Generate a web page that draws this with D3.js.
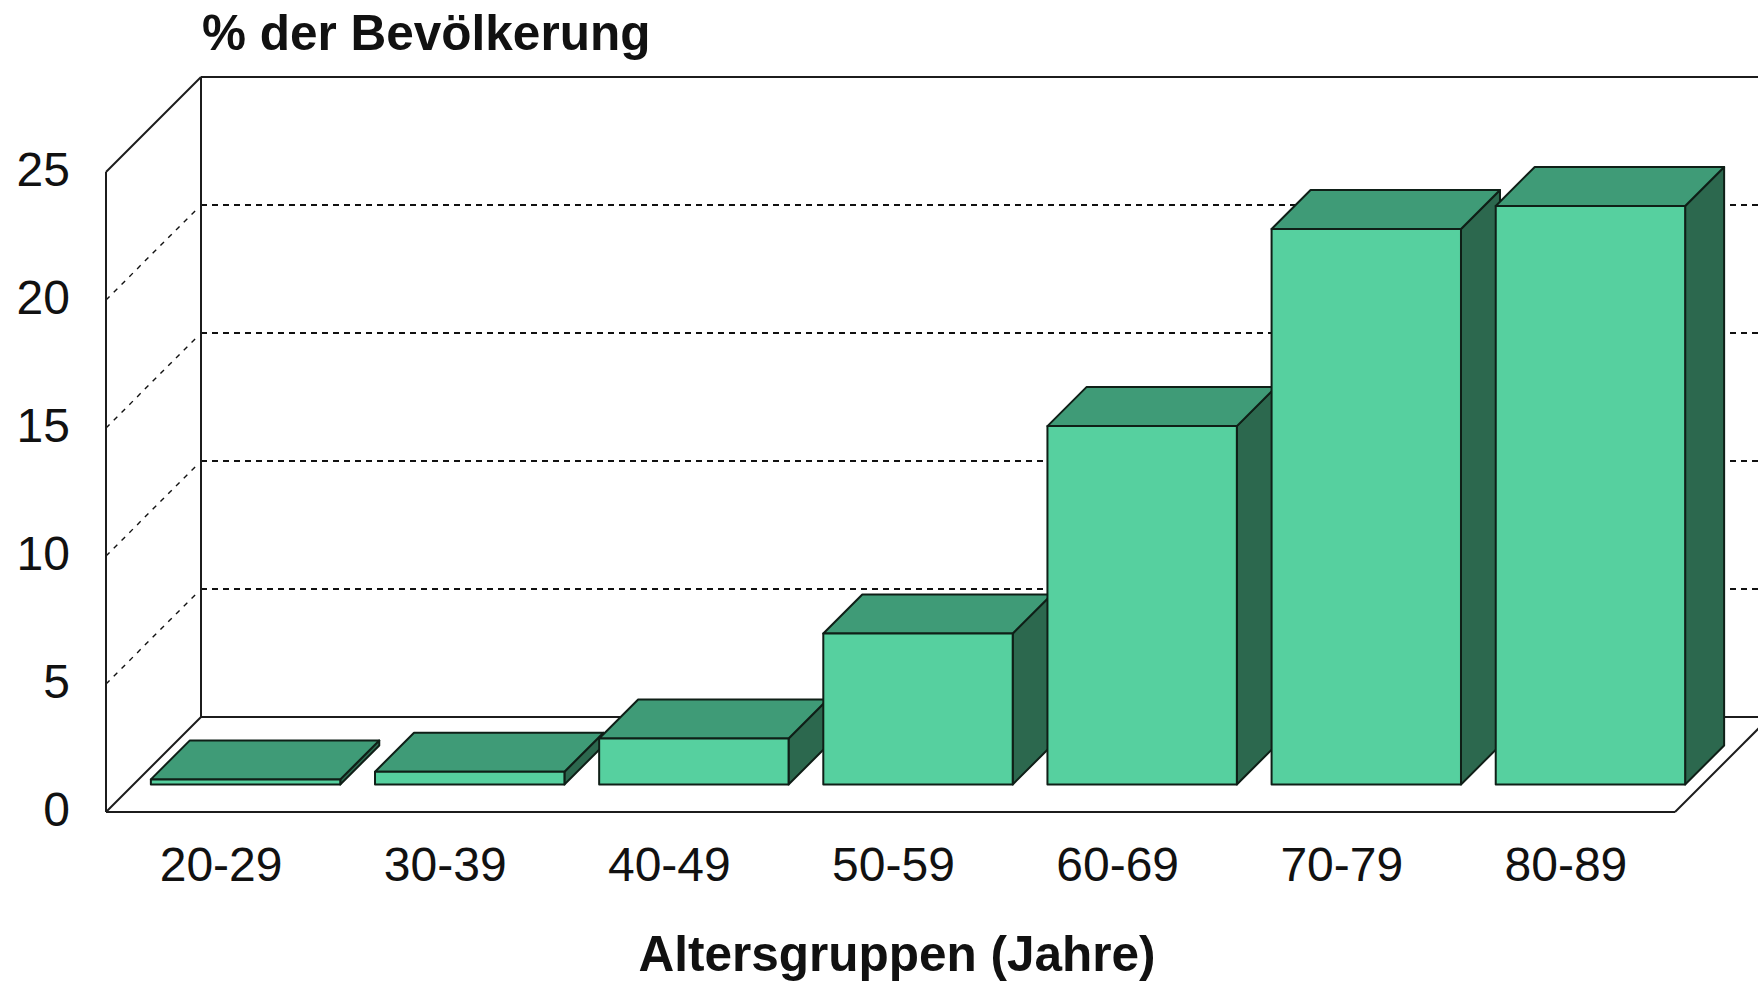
<!DOCTYPE html>
<html>
<head>
<meta charset="utf-8">
<script src="https://cdn.jsdelivr.net/npm/d3@7"></script>
<style>
  html, body { margin: 0; padding: 0; background: #ffffff; }
  svg { display: block; }
  text { font-family: "Liberation Sans", Arial, sans-serif; fill: #111; }
</style>
</head>
<body>
<svg id="chart" width="1758" height="983"></svg>
<script>
// Share of the population by age group (percent)
const categories = ["20-29", "30-39", "40-49", "50-59", "60-69", "70-79", "80-89"];
const values = [0.2, 0.5, 1.8, 5.9, 14.0, 21.7, 22.6];
const yTicks = [0, 5, 10, 15, 20, 25];
const yTitle = "% der Bevölkerung";
const xTitle = "Altersgruppen (Jahre)";

const svg = d3.select("#chart");

// Front plane of the 3D box and its oblique depth
const boxLeft = 106, boxRight = 1675, boxBase = 812, boxTop = 172;
const depth = 95;                 // 45° offset of the back wall
const barZ0 = 27.5, barZ1 = 66.5; // bar depth range inside the box

const x = d3.scaleBand()
  .domain(categories)
  .range([boxLeft, boxRight])
  .paddingInner(0.155)
  .paddingOuter(0.0775);

const xCat = d3.scaleBand().domain(categories).range([boxLeft, boxRight]);

const y = d3.scaleLinear().domain([0, 25]).range([boxBase, boxTop]);

// oblique projection: z pushes a point back (right and up)
const P = (px, py, z) => [px + z, py - z];
const line = d3.line();

const wallStroke = "#1c1c1c";

// back wall gridlines
const grid = svg.append("g");
yTicks.filter(t => t > 0 && t < 25).forEach(t => {
  grid.append("path")
    .attr("d", line([P(boxLeft, y(t), depth), P(boxRight, y(t), depth)]))
    .attr("stroke", "#111").attr("stroke-width", 1.8)
    .attr("stroke-dasharray", "6,5").attr("fill", "none");
  grid.append("path")
    .attr("d", line([P(boxLeft, y(t), 0), P(boxLeft, y(t), depth - 4)]))
    .attr("stroke", "#111").attr("stroke-width", 1.4)
    .attr("stroke-dasharray", "5,6").attr("fill", "none");
});

// walls and floor outline
const walls = svg.append("g")
  .attr("stroke", wallStroke).attr("stroke-width", 2).attr("fill", "none");
walls.append("path").attr("d", line([P(boxLeft, y(25), depth), P(boxRight, y(25), depth)]));
walls.append("path").attr("d", line([P(boxLeft, y(25), depth), P(boxLeft, y(0), depth)]));
walls.append("path").attr("d", line([P(boxLeft, y(0), depth), P(boxRight, y(0), depth)]));
walls.append("path").attr("d", line([P(boxLeft, y(25), 0), P(boxLeft, y(25), depth)]));
walls.append("path").attr("d", line([P(boxLeft, y(25), 0), P(boxLeft, y(0), 0)]));
walls.append("path").attr("d", line([P(boxLeft, y(0), 0), P(boxLeft, y(0), depth)]));
walls.append("path").attr("d", line([P(boxLeft, y(0), 0), P(boxRight, y(0), 0)]));
walls.append("path").attr("d", line([P(boxRight, y(0), 0), P(boxRight, y(0), depth)]));

// 3D bars, left to right so each one covers its neighbour's side
const colFront = "#56d09f", colTop = "#3f9b77", colSide = "#2c684e";
const barStroke = "#0f1f17";
const bars = svg.append("g")
  .attr("stroke", barStroke).attr("stroke-width", 2).attr("stroke-linejoin", "round");

categories.forEach((c, i) => {
  const x0 = x(c), x1 = x(c) + x.bandwidth();
  const yb = y(0), yt = y(values[i]);
  const g = bars.append("g");
  // right side face
  g.append("path")
    .attr("d", line([P(x1, yb, barZ0), P(x1, yb, barZ1), P(x1, yt, barZ1), P(x1, yt, barZ0)]) + "Z")
    .attr("fill", colSide);
  // top face
  g.append("path")
    .attr("d", line([P(x0, yt, barZ0), P(x1, yt, barZ0), P(x1, yt, barZ1), P(x0, yt, barZ1)]) + "Z")
    .attr("fill", colTop);
  // front face
  g.append("path")
    .attr("d", line([P(x0, yb, barZ0), P(x1, yb, barZ0), P(x1, yt, barZ0), P(x0, yt, barZ0)]) + "Z")
    .attr("fill", colFront);
});

// value axis labels on the front edge
svg.append("g").selectAll("text")
  .data(yTicks).join("text")
  .attr("x", 70).attr("y", d => y(d) - 3)
  .attr("text-anchor", "end").attr("dominant-baseline", "central")
  .attr("font-size", 48)
  .text(d => d);

// category labels
svg.append("g").selectAll("text")
  .data(categories).join("text")
  .attr("x", d => xCat(d) + xCat.bandwidth() / 2 + 3).attr("y", 864)
  .attr("text-anchor", "middle").attr("dominant-baseline", "central")
  .attr("font-size", 48)
  .text(d => d);

// titles
svg.append("text")
  .attr("x", 202).attr("y", 50)
  .attr("font-size", 49.5).attr("font-weight", "bold")
  .text(yTitle);

svg.append("text")
  .attr("x", 897).attr("y", 971)
  .attr("text-anchor", "middle")
  .attr("font-size", 49.5).attr("font-weight", "bold")
  .text(xTitle);
</script>
</body>
</html>
